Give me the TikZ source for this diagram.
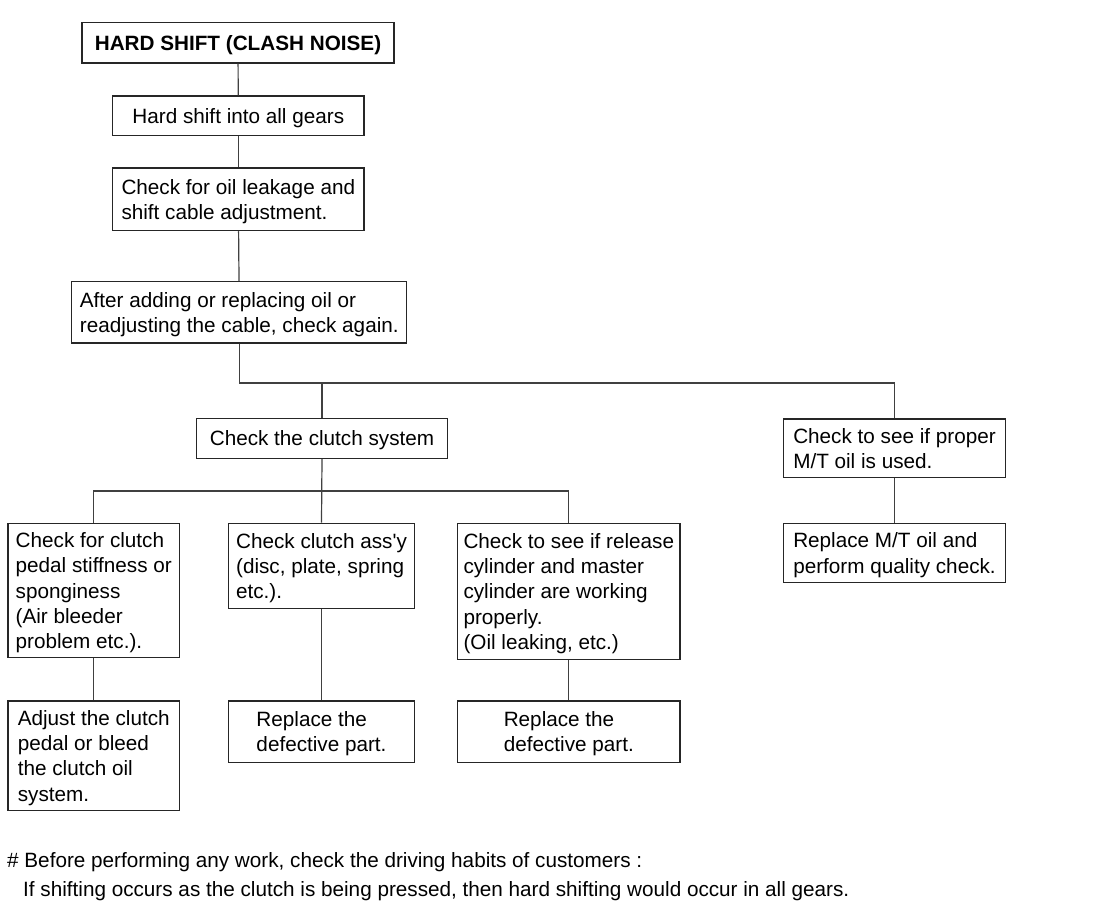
\documentclass[tikz,border=0pt]{standalone}
\usepackage{fontspec}
\setmainfont{Liberation Sans}
\newfontfamily\plainfont{Liberation Sans}
\begin{document}
\begin{tikzpicture}[x=1pt,y=-1pt]
\tikzset{
  box/.style={draw=black!85, line width=1.2pt, inner sep=0pt, align=left,
    text depth=0pt,
    font=\fontsize{20.7}{25.3}\selectfont},
  conn/.style={draw=black!75, line width=1.2pt},
  note/.style={inner sep=0pt, anchor=base west, font=\fontsize{20.7}{25.3}\selectfont},
}
\useasboundingbox[fill=white] (0,0) rectangle (1098,909);

\node[box, minimum width=312pt, minimum height=40.3pt] (title) at (238,42.8) {\bfseries HARD SHIFT (CLASH NOISE)};
\node[box, minimum width=251.3pt, minimum height=39.7pt] (hard) at (238.3,115.8) {Hard shift into all gears};
\node[box, minimum width=251.3pt, minimum height=62.7pt] (oil) at (238.3,199.3) {Check for oil leakage and\\shift cable adjustment.};
\node[box, minimum width=335pt, minimum height=61.3pt] (after) at (239.3,312.3) {After adding or replacing oil or\\readjusting the cable, check again.};

\node[box, minimum width=251.4pt, minimum height=40pt] (clutch) at (322,438.3) {Check the clutch system};
\node[box, minimum width=222.4pt, minimum height=58.7pt] (proper) at (894.5,448.3) {Check to see if proper\\M/T oil is used.};
\node[box, minimum width=222.4pt, minimum height=59.4pt] (mtoil) at (894.5,553) {Replace M/T oil and\\perform quality check.};

\node[box, minimum width=171.5pt, minimum height=134.4pt] (pedal) at (93.75,590.5) {Check for clutch\\pedal stiffness or\\sponginess\\(Air bleeder\\problem etc.).};
\node[box, minimum width=185.7pt, minimum height=85pt] (assy) at (321.5,565.8) {Check clutch ass{\plainfont'}y\\(disc, plate, spring\\etc.).};
\node[box, minimum width=222.4pt, minimum height=136pt] (release) at (568.8,591.3) {Check to see if release\\cylinder and master\\cylinder are working\\properly.\\(Oil leaking, etc.)};

\node[box, minimum width=171.5pt, minimum height=109.7pt] (adjust) at (93.75,755.8) {Adjust the clutch\\pedal or bleed\\the clutch oil\\system.};
\node[box, minimum width=185.7pt, minimum height=61.3pt] (repA) at (321.5,731.7) {Replace the\\defective part.};
\node[box, minimum width=222.4pt, minimum height=61.3pt] (repB) at (568.8,731.7) {Replace the\\defective part.};

\node[note] (n1) at (7,867.7) {\# Before performing any work, check the driving habits of customers :};
\node[note] (n2) at (23,896) {If shifting occurs as the clutch is being pressed, then hard shifting would occur in all gears.};

\coordinate (j1) at (239.3,383);
\coordinate (j2) at (321.5,491);

\draw[conn] (title) -- (hard);
\draw[conn] (hard) -- (oil);
\draw[conn] (oil) -- (after);
\draw[conn] (after.south) -- (j1) -| (proper.north);
\draw[conn] (j1 -| clutch.north) -- (clutch.north);
\draw[conn] (clutch.south) -- (assy.north);
\draw[conn] (pedal.north) |- (j2) -| (release.north);
\draw[conn] (pedal) -- (adjust);
\draw[conn] (assy) -- (repA);
\draw[conn] (release) -- (repB);
\draw[conn] (proper) -- (mtoil);
\end{tikzpicture}
\end{document}
